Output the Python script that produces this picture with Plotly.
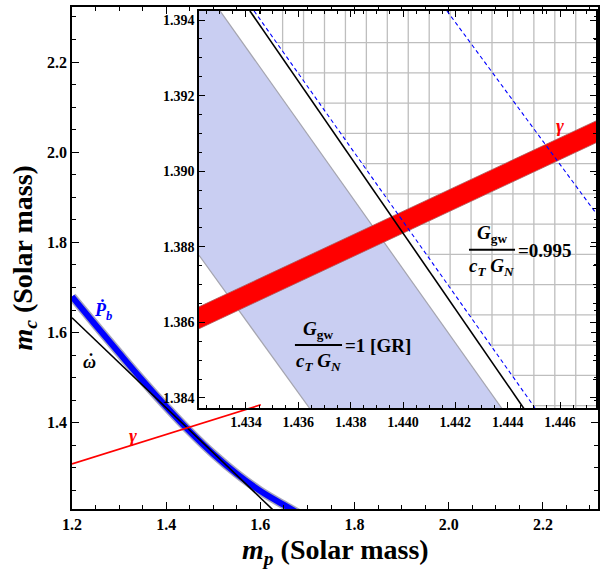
import plotly.graph_objects as go

# ---------------- main panel data ----------------
pb_x = [1.20, 1.25, 1.30, 1.35, 1.40, 1.45, 1.50, 1.55, 1.60, 1.65, 1.68]
pb_y = [1.680, 1.617, 1.555, 1.494, 1.436, 1.381, 1.331, 1.287, 1.249, 1.218, 1.200]
omega_main_x = [1.20, 1.6268]
omega_main_y = [1.633, 1.207]
gamma_main_x = [1.20, 1.601]
gamma_main_y = [1.309, 1.440]

main_xrange = [1.20, 2.317]
main_yrange = [1.209, 2.322]
main_xticks = [1.2, 1.4, 1.6, 1.8, 2.0, 2.2]
main_yticks = [1.4, 1.6, 1.8, 2.0, 2.2]

# ---------------- inset data ----------------
inset_xrange = [1.432204, 1.447374]
inset_yrange = [1.383735, 1.394238]
inset_xticks = [1.434, 1.436, 1.438, 1.440, 1.442, 1.444, 1.446]
inset_yticks = [1.384, 1.386, 1.388, 1.390, 1.392, 1.394]

gr_upper_x = [1.43301, 1.44382]
gr_upper_y = [1.39424, 1.38368]
gr_lower_x = [1.43220, 1.43648]
gr_lower_y = [1.38778, 1.38368]
omega_in_x = [1.43415, 1.44466]
omega_in_y = [1.39424, 1.38368]
dash1_x = [1.43431, 1.44504]
dash1_y = [1.39424, 1.38374]
dash2_x = [1.44168, 1.44734]
dash2_y = [1.39424, 1.38892]
gam_up_x = [1.43220, 1.44737]
gam_up_y = [1.38641, 1.39133]
gam_lo_x = [1.43220, 1.44737]
gam_lo_y = [1.38583, 1.39075]

grid_x = [1.4354, 1.4362, 1.4370, 1.4378, 1.4386, 1.4394, 1.4402, 1.4410,
          1.4418, 1.4426, 1.4434, 1.4442, 1.4450, 1.4458, 1.4466]
grid_y = [1.3934, 1.3926, 1.3918, 1.3910, 1.3902, 1.3894, 1.3886, 1.3878,
          1.3870, 1.3862, 1.3854, 1.3846, 1.3838]

FONT = "Liberation Serif"


def x_at(xs, ys, y):
    return xs[0] + (y - ys[0]) * (xs[1] - xs[0]) / (ys[1] - ys[0])


def y_at(xs, ys, x):
    return ys[0] + (x - xs[0]) * (ys[1] - ys[0]) / (xs[1] - xs[0])


fig = go.Figure()

# ---- main traces ----
fig.add_trace(go.Scatter(x=pb_x, y=pb_y, mode="lines", xaxis="x", yaxis="y",
                         line=dict(color="rgba(150,150,175,0.85)", width=9, shape="spline"),
                         hoverinfo="skip", showlegend=False))
fig.add_trace(go.Scatter(x=pb_x, y=pb_y, mode="lines", xaxis="x", yaxis="y",
                         line=dict(color="rgb(0,0,255)", width=6, shape="spline"),
                         hoverinfo="skip", showlegend=False))
fig.add_trace(go.Scatter(x=omega_main_x, y=omega_main_y, mode="lines", xaxis="x", yaxis="y",
                         line=dict(color="black", width=1.6), showlegend=False))
fig.add_trace(go.Scatter(x=gamma_main_x, y=gamma_main_y, mode="lines", xaxis="x", yaxis="y",
                         line=dict(color="red", width=1.6), showlegend=False))

# ---- inset traces ----
ylo, yhi = 1.380, 1.397
xlo, xhi = 1.430, 1.450

# grid only to the right of the first dashed line
gx, gy = [], []
for g in grid_x:
    gx += [g, g, None]
    gy += [y_at(dash1_x, dash1_y, g), yhi, None]
for g in grid_y:
    gx += [x_at(dash1_x, dash1_y, g), xhi, None]
    gy += [g, g, None]
fig.add_trace(go.Scatter(x=gx, y=gy, mode="lines", line=dict(color="rgb(190,190,190)", width=1.3),
                         xaxis="x2", yaxis="y2", hoverinfo="skip", showlegend=False))
fig.add_trace(go.Scatter(
    x=[x_at(gr_upper_x, gr_upper_y, yhi), x_at(gr_upper_x, gr_upper_y, ylo),
       x_at(gr_lower_x, gr_lower_y, ylo), x_at(gr_lower_x, gr_lower_y, yhi)],
    y=[yhi, ylo, ylo, yhi], fill="toself", fillcolor="rgb(201,206,242)",
    line=dict(width=0), mode="lines", xaxis="x2", yaxis="y2", hoverinfo="skip", showlegend=False))
for ex, ey in [(gr_upper_x, gr_upper_y), (gr_lower_x, gr_lower_y)]:
    fig.add_trace(go.Scatter(x=[x_at(ex, ey, yhi), x_at(ex, ey, ylo)], y=[yhi, ylo], mode="lines",
                             line=dict(color="rgb(165,165,175)", width=1.2),
                             xaxis="x2", yaxis="y2", hoverinfo="skip", showlegend=False))
fig.add_trace(go.Scatter(
    x=[xlo, xhi, xhi, xlo, xlo],
    y=[y_at(gam_up_x, gam_up_y, xlo), y_at(gam_up_x, gam_up_y, xhi),
       y_at(gam_lo_x, gam_lo_y, xhi), y_at(gam_lo_x, gam_lo_y, xlo), y_at(gam_up_x, gam_up_y, xlo)],
    fill="toself", fillcolor="rgb(255,0,0)", line=dict(color="rgba(170,90,90,0.8)", width=1),
    mode="lines", xaxis="x2", yaxis="y2", hoverinfo="skip", showlegend=False))
fig.add_trace(go.Scatter(x=omega_in_x, y=omega_in_y, mode="lines", line=dict(color="black", width=1.6),
                         xaxis="x2", yaxis="y2", hoverinfo="skip", showlegend=False))
fig.add_trace(go.Scatter(x=dash1_x, y=dash1_y, mode="lines",
                         line=dict(color="rgb(0,0,255)", width=1.1, dash="4px,3px"),
                         xaxis="x2", yaxis="y2", hoverinfo="skip", showlegend=False))
fig.add_trace(go.Scatter(x=dash2_x, y=dash2_y, mode="lines",
                         line=dict(color="rgb(0,0,255)", width=1.1, dash="4px,3px"),
                         xaxis="x2", yaxis="y2", hoverinfo="skip", showlegend=False))

tickfont_main = dict(family=FONT, size=16, color="black")
tickfont_in = dict(family=FONT, size=14, color="black")

axis_common = dict(ticks="inside", showline=True, linecolor="black", linewidth=1.5,
                   mirror="allticks", showgrid=False, zeroline=False, tickcolor="black")


def bold_labels(vals, fmt):
    return ["<b>" + format(v, fmt) + "</b>" for v in vals]


fig.update_layout(
    width=603, height=575,
    margin=dict(l=72, r=5, t=7, b=66, autoexpand=False),
    paper_bgcolor="white", plot_bgcolor="rgba(0,0,0,0)",
    showlegend=False,
    xaxis=dict(domain=[0, 1], range=main_xrange, tickvals=main_xticks,
               ticktext=bold_labels(main_xticks, ".1f"),
               ticklen=7, tickwidth=1.2, tickfont=tickfont_main, anchor="y",
               minor=dict(ticks="inside", tick0=1.2, dtick=0.05, ticklen=4, tickwidth=1, tickcolor="black"),
               **axis_common),
    yaxis=dict(domain=[0, 1], range=main_yrange, tickvals=main_yticks,
               ticktext=bold_labels(main_yticks, ".1f"),
               ticklen=7, tickwidth=1.2, tickfont=tickfont_main, anchor="x",
               minor=dict(ticks="inside", tick0=1.2, dtick=0.05, ticklen=4, tickwidth=1, tickcolor="black"),
               **axis_common),
    xaxis2=dict(domain=[0.2414, 0.9962], range=inset_xrange, tickvals=inset_xticks,
                ticktext=bold_labels(inset_xticks, ".3f"),
                ticklen=6, tickwidth=1.2, tickfont=tickfont_in, anchor="y2",
                minor=dict(ticks="inside", tick0=1.434, dtick=0.0005, ticklen=3.5, tickwidth=1,
                           tickcolor="black"),
                **axis_common),
    yaxis2=dict(domain=[0.2012, 0.9920], range=inset_yrange, tickvals=inset_yticks,
                ticktext=bold_labels(inset_yticks, ".3f"),
                ticklen=6, tickwidth=1.2, tickfont=tickfont_in, anchor="x2",
                minor=dict(ticks="inside", tick0=1.384, dtick=0.0005, ticklen=3.5, tickwidth=1,
                           tickcolor="black"),
                **axis_common),
)

# axis titles
fig.add_annotation(xref="paper", yref="paper", x=0.5, y=-0.085, yanchor="middle", showarrow=False,
                   text="<b><i>m</i><sub><i>p</i></sub> (Solar mass)</b>",
                   font=dict(family=FONT, size=28, color="black"))
fig.add_annotation(xref="paper", yref="paper", x=-0.092, y=0.5, xanchor="center", showarrow=False,
                   textangle=-90, text="<b><i>m</i><sub><i>c</i></sub> (Solar mass)</b>",
                   font=dict(family=FONT, size=28, color="black"))

# curve labels (main)
fig.add_annotation(x=1.266, y=1.648, xref="x", yref="y", showarrow=False,
                   text="<b><i>Ṗ</i><sub><i>b</i></sub></b>", font=dict(family=FONT, size=18, color="blue"))
fig.add_annotation(x=1.238, y=1.536, xref="x", yref="y", showarrow=False,
                   text="<b><i>ω</i></b>", font=dict(family=FONT, size=18, color="black"))
fig.add_annotation(x=1.241, y=1.540, xref="x", yref="y", showarrow=False,
                   text="<b>˙</b>", font=dict(family=FONT, size=18, color="black"))
fig.add_annotation(x=1.330, y=1.373, xref="x", yref="y", showarrow=False,
                   text="<b><i>γ</i></b>", font=dict(family=FONT, size=19, color="red"))
# inset labels
fig.add_annotation(x=1.4460, y=1.39122, xref="x2", yref="y2", showarrow=False,
                   text="<b><i>γ</i></b>", font=dict(family=FONT, size=19, color="red"))

# fraction 1 : GR
fig.add_shape(type="line", xref="x2", yref="y2", x0=1.43587, x1=1.43767, y0=1.38540, y1=1.38540,
              line=dict(color="black", width=2))
fig.add_annotation(x=1.43677, y=1.38580, xref="x2", yref="y2", showarrow=False,
                   text="<b><i>G</i><sub>gw</sub></b>", font=dict(family=FONT, size=19, color="black"))
fig.add_annotation(x=1.43677, y=1.38495, xref="x2", yref="y2", showarrow=False,
                   text="<b><i>c</i><sub><i>T</i></sub> <i>G</i><sub><i>N</i></sub></b>",
                   font=dict(family=FONT, size=19, color="black"))
fig.add_annotation(x=1.43770, y=1.38538, xref="x2", yref="y2", showarrow=False, xanchor="left",
                   text="<b>=1 [GR]</b>", font=dict(family=FONT, size=19, color="black"))

# fraction 2 : 0.995
fig.add_shape(type="line", xref="x2", yref="y2", x0=1.44252, x1=1.44428, y0=1.38792, y1=1.38792,
              line=dict(color="black", width=2))
fig.add_annotation(x=1.44340, y=1.38834, xref="x2", yref="y2", showarrow=False,
                   text="<b><i>G</i><sub>gw</sub></b>", font=dict(family=FONT, size=19, color="black"))
fig.add_annotation(x=1.44340, y=1.38747, xref="x2", yref="y2", showarrow=False,
                   text="<b><i>c</i><sub><i>T</i></sub> <i>G</i><sub><i>N</i></sub></b>",
                   font=dict(family=FONT, size=19, color="black"))
fig.add_annotation(x=1.44432, y=1.38790, xref="x2", yref="y2", showarrow=False, xanchor="left",
                   text="<b>=0.995</b>", font=dict(family=FONT, size=19, color="black"))

fig.write_html("out.html", post_script="document.body.style.margin='0';",
               config={"displayModeBar": False})
